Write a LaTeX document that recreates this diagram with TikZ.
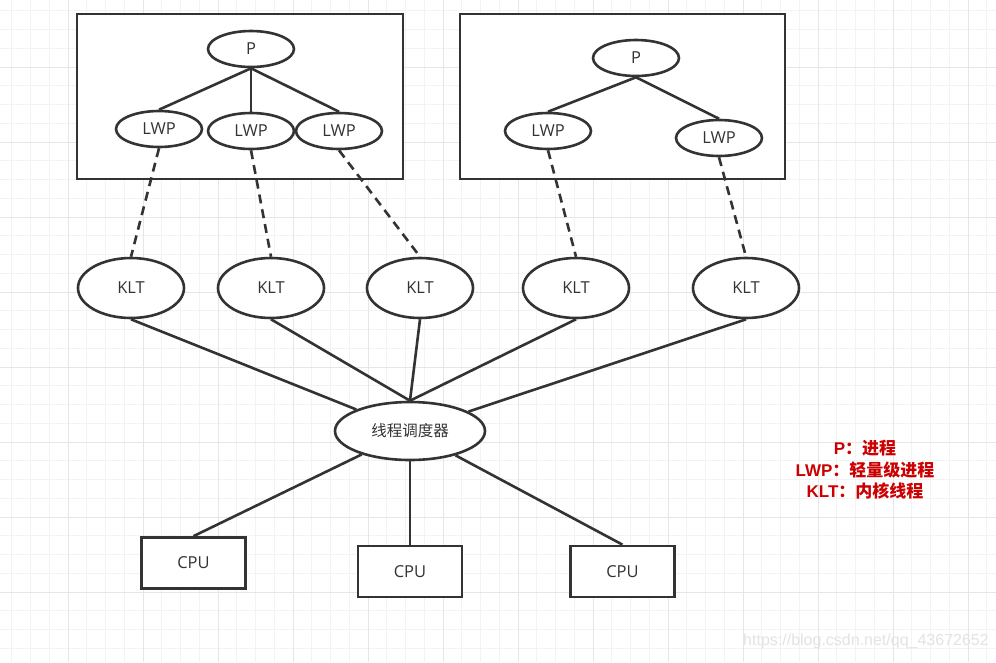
\documentclass[tikz,border=0pt]{standalone}
\usepackage{fontspec}
\setmainfont{Open Sans}
\newfontfamily\cjk{Noto Sans CJK SC}
\newfontfamily\wmfont{Liberation Sans}
\usetikzlibrary{shapes.geometric}
\definecolor{linegray}{HTML}{333333}
\definecolor{gridminor}{HTML}{F3F3F3}
\definecolor{gridmajor}{HTML}{E6E6E6}
\definecolor{legendred}{HTML}{CC0000}
\newcommand{\lat}[1]{{\wmfont\bfseries #1}}
\tikzset{
	conn/.style={draw=linegray, line width=2.6pt},
	dashconn/.style={conn, dash pattern=on 9pt off 6pt},
	frame/.style={draw=linegray, line width=2.7pt, fill=white},
	pnode/.style={ellipse, draw=linegray, line width=2.6pt, fill=white, inner sep=0pt,
		minimum width=86pt, minimum height=36pt, text=linegray, font=\fontsize{16.5}{19}\selectfont},
	kltnode/.style={pnode, minimum width=106pt, minimum height=60pt},
	schednode/.style={pnode, minimum width=150pt, minimum height=58pt, font=\cjk\fontsize{15.5}{18}\selectfont},
	cpunode/.style={rectangle, draw=linegray, line width=2.7pt, fill=white, inner sep=0pt,
		minimum width=104pt, minimum height=51pt, text=linegray, font=\fontsize{16.5}{19}\selectfont}
}

\begin{document}
\begin{tikzpicture}[x=1pt, y=-1pt]
			%%%%% START %%%%%
			\useasboundingbox (0, 0) rectangle (996, 662);
			\fill[white] (0, 0) rectangle (996, 662);
			
			% grid
			\foreach \i in {0,...,53} {
				\draw[gridminor, line width=1pt] ({-7+\i*18.75}, 0) -- ({-7+\i*18.75}, 662);
				\draw[gridminor, line width=1pt] (0, {-8+\i*18.75}) -- (996, {-8+\i*18.75});
			}
			\foreach \i in {0,...,13} {
				\draw[gridmajor, line width=1pt] ({-7+\i*75}, 0) -- ({-7+\i*75}, 662);
				\draw[gridmajor, line width=1pt] (0, {-8+\i*75}) -- (996, {-8+\i*75});
			}
			
			% two process boxes
			\draw[frame] (77, 14) rectangle (403, 179);
			\draw[frame] (460, 14) rectangle (785, 179);
			
			\node[pnode] (p1) at (251, 49) {P};
			\node[pnode] (lwp1) at (159, 129) {LWP};
			\node[pnode] (lwp2) at (251, 131) {LWP};
			\node[pnode] (lwp3) at (339, 131) {LWP};
			
			\node[pnode] (p2) at (636, 58) {P};
			\node[pnode] (lwp4) at (548, 131) {LWP};
			\node[pnode] (lwp5) at (719, 138) {LWP};
			
			\draw[conn] (p1.south) -- (lwp1.north);
			\draw[conn] (p1.south) -- (lwp2.north);
			\draw[conn] (p1.south) -- (lwp3.north);
			\draw[conn] (p2.south) -- (lwp4.north);
			\draw[conn] (p2.south) -- (lwp5.north);
			
			% kernel threads
			\node[kltnode] (klt1) at (131, 288) {KLT};
			\node[kltnode] (klt2) at (271, 288) {KLT};
			\node[kltnode] (klt3) at (420, 288) {KLT};
			\node[kltnode] (klt4) at (576, 288) {KLT};
			\node[kltnode] (klt5) at (746, 288) {KLT};
			
			\draw[dashconn] (lwp1.south) -- (klt1.north);
			\draw[dashconn] (lwp2.south) -- (klt2.north);
			\draw[dashconn] (lwp3.south) -- (klt3.north);
			\draw[dashconn] (lwp4.south) -- (klt4.north);
			\draw[dashconn] (lwp5.south) -- (klt5.north);
			
			% scheduler
			\node[schednode] (sched) at (410, 431) {线程调度器};
			
			\draw[conn] (klt1.south) -- (sched);
			\draw[conn] (klt2.south) -- (sched.north);
			\draw[conn] (klt3.south) -- (sched.north);
			\draw[conn] (klt4.south) -- (sched.north);
			\draw[conn] (klt5.south) -- (sched);
			
			% cpus
			\node[cpunode] (cpu1) at (193.5, 563) {CPU};
			\node[cpunode] (cpu2) at (410, 571.5) {CPU};
			\node[cpunode] (cpu3) at (622.5, 571.5) {CPU};
			
			\draw[conn] (sched) -- (cpu1.north);
			\draw[conn] (sched.south) -- (cpu2.north);
			\draw[conn] (sched) -- (cpu3.north);
			
			% legend
			\node[text=legendred, align=center, font=\cjk\bfseries\fontsize{17}{21.5}\selectfont] (legend) at (865, 470)
				{\lat{P}：进程\\\lat{LWP}：轻量级进程\\\lat{KLT}：内核线程};
			
			\node[text=black!11, font=\wmfont\fontsize{16}{19}\selectfont] (mark) at (866, 641) {https://blog.csdn.net/qq\_43672652};
			%%%%% END %%%%%
\end{tikzpicture}
\end{document}
